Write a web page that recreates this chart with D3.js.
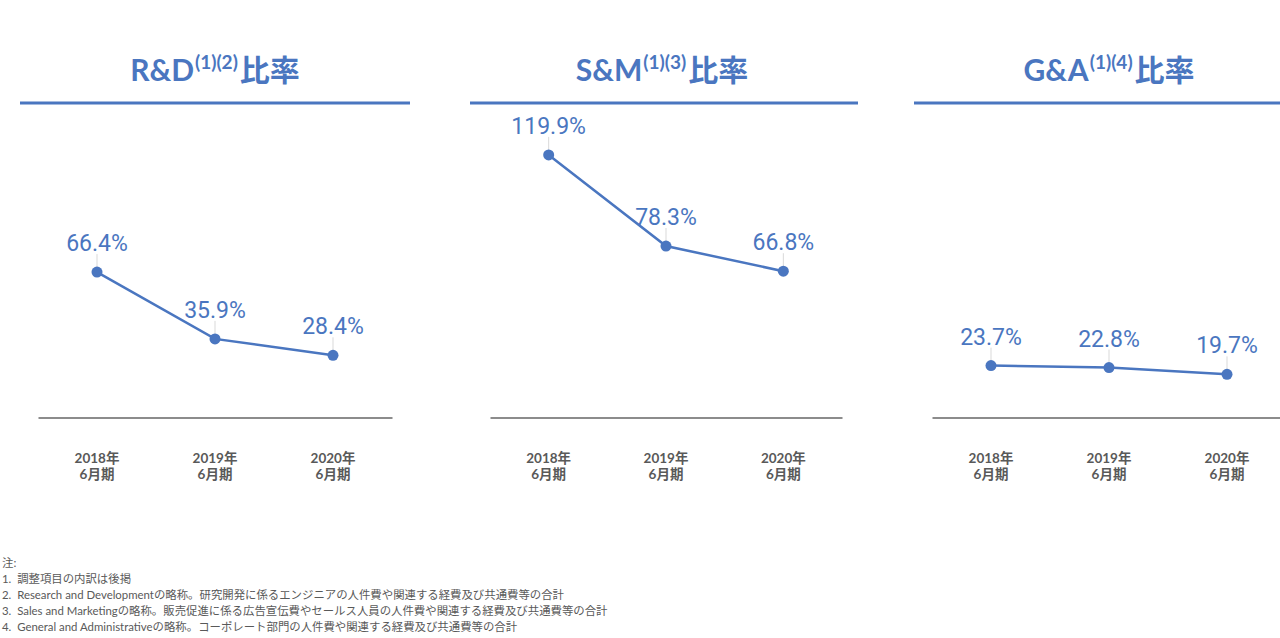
<!DOCTYPE html>
<html><head><meta charset="utf-8">
<script src="https://cdn.jsdelivr.net/npm/d3@7"></script>
<style>body{margin:0;background:#fff}svg{display:block}.fn{white-space:pre}</style>
</head><body>
<svg id="c" width="1280" height="638"></svg>
<script>
const categories = ["2018年|6月期", "2019年|6月期", "2020年|6月期"];
const rdValues = [66.4, 35.9, 28.4];
const smValues = [119.9, 78.3, 66.8];
const gaValues = [23.7, 22.8, 19.7];
const panelTitles = ["R&D", "S&M", "G&A"];
const panelNotes = ["(1)(2)", "(1)(3)", "(1)(4)"];
const titleSuffix = "比率";
const footnotes = [
  "注:",
  "1.  調整項目の内訳は後掲",
  "2.  Research and Developmentの略称。研究開発に係るエンジニアの人件費や関連する経費及び共通費等の合計",
  "3.  Sales and Marketingの略称。販売促進に係る広告宣伝費やセールス人員の人件費や関連する経費及び共通費等の合計",
  "4.  General and Administrativeの略称。コーポレート部門の人件費や関連する経費及び共通費等の合計"
];

const series = [rdValues, smValues, gaValues];
const blue = "#4a76c0";
const svg = d3.select("#c");
const font = "Lato, 'Noto Sans CJK JP', sans-serif";

const panels = [
  {lineX: [20, 410], axisX: [38, 392], titleX: 215},
  {lineX: [470, 858], axisX: [490, 842], titleX: 662},
  {lineX: [914, 1280], axisX: [932, 1286], titleX: 1109}
];

const y = d3.scaleLinear().domain([0, 150]).range([417.5, 89]);

panels.forEach((p, i) => {
  const g = svg.append("g");
  const t = g.append("text").attr("x", p.titleX).attr("y", 81)
    .attr("text-anchor", "middle").attr("fill", blue)
    .attr("font-family", font).attr("font-weight", 700).attr("font-size", 30);
  t.append("tspan").text(panelTitles[i]);
  t.append("tspan").attr("font-size", 19).attr("dy", -12).attr("dx", 1).text(panelNotes[i]);
  t.append("tspan").attr("dy", 12).attr("dx", 2)
    .attr("font-family", "'Noto Sans CJK JP', sans-serif").text(titleSuffix);
  g.append("line").attr("x1", p.lineX[0]).attr("x2", p.lineX[1])
    .attr("y1", 103).attr("y2", 103).attr("stroke", blue).attr("stroke-width", 3);

  const x = d3.scaleBand().domain(categories).range(p.axisX).padding(0);
  const cx = d => x(d) + x.bandwidth() / 2;

  const axis = d3.axisBottom(x).tickSize(0).tickFormat("");
  const ag = g.append("g").attr("transform", `translate(0,${y(0)})`).call(axis);
  ag.select(".domain").attr("stroke", "#8c8c8c").attr("stroke-width", 2);

  categories.forEach(c => {
    const parts = c.split("|");
    const tt = g.append("text").attr("text-anchor", "middle").attr("fill", "#595959")
      .attr("font-family", font).attr("font-weight", 700).attr("font-size", 13.5);
    tt.append("tspan").attr("x", cx(c)).attr("y", 463).text(parts[0]);
    tt.append("tspan").attr("x", cx(c)).attr("y", 479).text(parts[1]);
  });

  const data = categories.map((c, k) => ({c, v: series[i][k]}));

  g.selectAll(".leader").data(data).join("line")
    .attr("x1", d => cx(d.c)).attr("x2", d => cx(d.c))
    .attr("y1", d => y(d.v) - 18).attr("y2", d => y(d.v) - 5)
    .attr("stroke", "#d9d9d9").attr("stroke-width", 1);

  const line = d3.line().x(d => cx(d.c)).y(d => y(d.v));
  g.append("path").datum(data).attr("d", line).attr("fill", "none")
    .attr("stroke", blue).attr("stroke-width", 2.5);
  g.selectAll("circle").data(data).join("circle")
    .attr("cx", d => cx(d.c)).attr("cy", d => y(d.v)).attr("r", 5.5).attr("fill", blue);

  g.selectAll(".lbl").data(data).join("text")
    .attr("x", d => cx(d.c)).attr("y", d => y(d.v) - 21)
    .attr("text-anchor", "middle").attr("fill", blue)
    .attr("font-family", "Roboto, sans-serif").attr("font-size", 23)
    .text(d => d.v.toFixed(1) + "%");
});

svg.append("g").selectAll("text").data(footnotes).join("text")
  .attr("class", "fn")
  .attr("x", 2).attr("y", (d, i) => 567 + i * 16)
  .attr("fill", "#595959").attr("font-family", font).attr("font-size", 11.4)
  .text(d => d);
</script>
</body></html>
